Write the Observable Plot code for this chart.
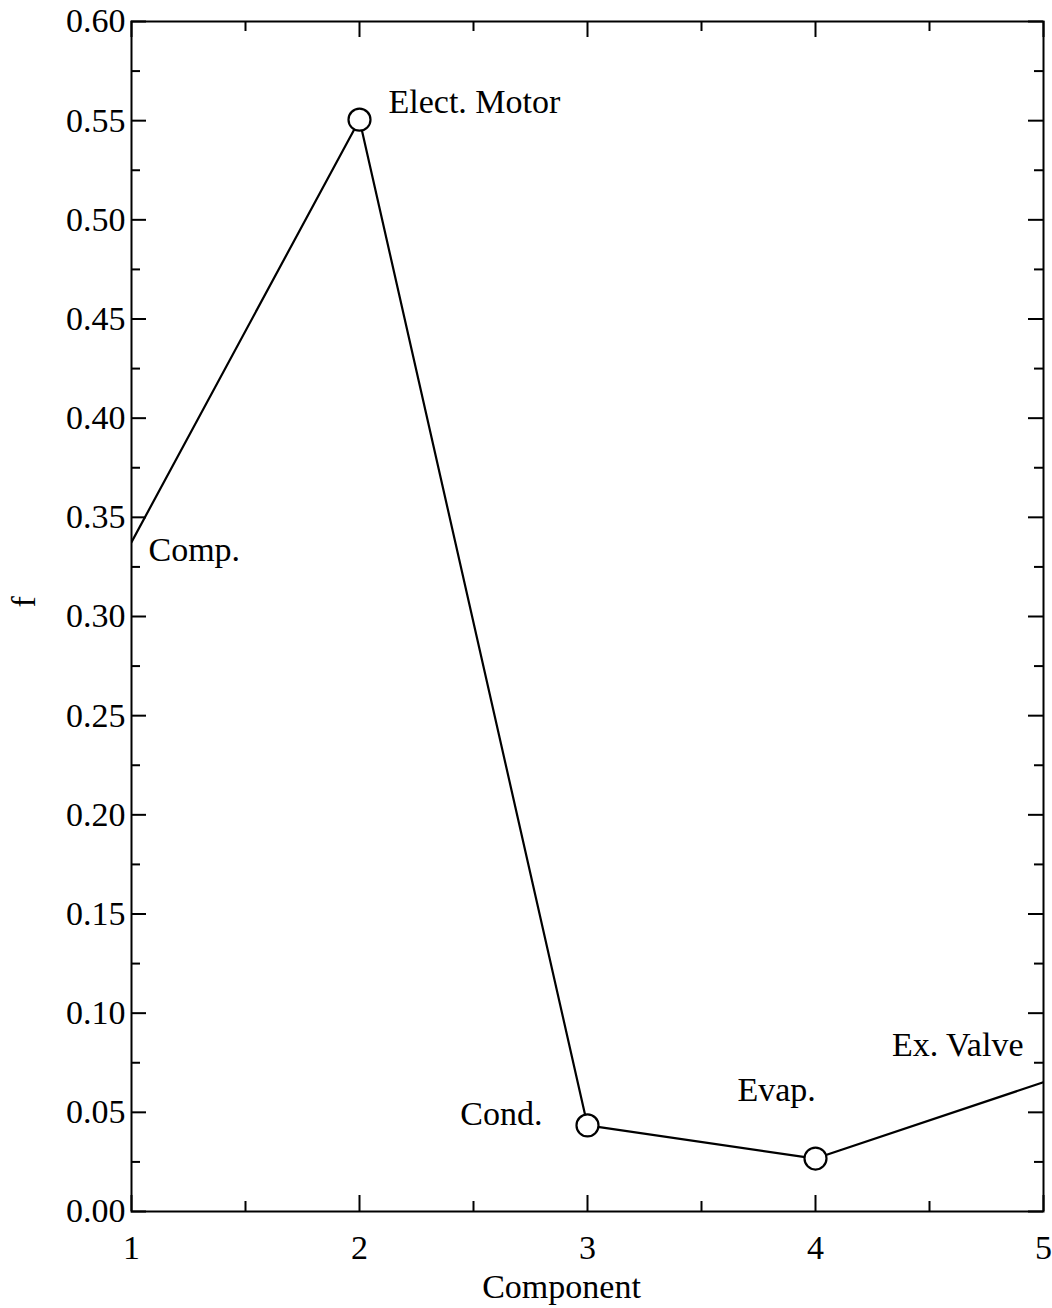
<!DOCTYPE html>
<html>
<head>
<meta charset="utf-8">
<script src="https://cdn.jsdelivr.net/npm/d3@7"></script>
<script src="https://cdn.jsdelivr.net/npm/@observablehq/plot@0.6"></script>
<style>
  html, body { margin: 0; padding: 0; background: #fff; }
  #chart svg { display: block; }
</style>
</head>
<body>
<div id="chart"></div>
<script>
// ---- data ----
const components = [1, 2, 3, 4, 5];
const fValues = [0.3375, 0.5505, 0.0434, 0.0267, 0.0652];
const componentNames = ["Comp.", "Elect. Motor", "Cond.", "Evap.", "Ex. Valve"];
const xTickLabels = [1, 2, 3, 4, 5];
const yTickLabels = [0, 0.05, 0.10, 0.15, 0.20, 0.25, 0.30, 0.35, 0.40, 0.45, 0.50, 0.55, 0.60];

const data = components.map((c, i) => ({x: c, f: fValues[i], name: componentNames[i]}));

// ---- layout (pixel offsets for labels) ----
const labelLayout = [
  {dx: 17, dy: 8, anchor: "start"},
  {dx: 29, dy: -18, anchor: "start"},
  {dx: -45, dy: -11, anchor: "end"},
  {dx: -78, dy: -68, anchor: "start"},
  {dx: -20, dy: -37, anchor: "end"}
];

const W = 1052, H = 1308;
const mL = 131, mR = 9, mT = 21, mB = 97;
const pw = W - mL - mR, ph = H - mT - mB;
const font = "'Liberation Serif', 'Times New Roman', serif";
const fs = 34;

const yMinor = d3.range(0.025, 0.6, 0.05);
const xMinor = [1.5, 2.5, 3.5, 4.5];
const yMajor = yTickLabels;
const xMajor = xTickLabels;

const labelMarks = data.map((d, i) => Plot.text([d], {
  x: "x", y: "f", text: "name",
  dx: labelLayout[i].dx, dy: labelLayout[i].dy,
  textAnchor: labelLayout[i].anchor,
  fontSize: fs, fill: "black"
}));

const plot = Plot.plot({
  width: W, height: H,
  marginLeft: mL, marginRight: mR, marginTop: mT, marginBottom: mB,
  style: {fontFamily: font, background: "white", color: "black"},
  x: {domain: [1, 5]},
  y: {domain: [0, 0.6]},
  marks: [
    // tick labels
    Plot.axisY({ticks: yTickLabels, tickSize: 0, tickPadding: 6, fontSize: fs, label: null, tickFormat: d3.format(".2f")}),
    Plot.axisX({ticks: xTickLabels, tickSize: 0, tickPadding: 23, fontSize: fs, label: null, tickFormat: d3.format("d")}),
    // inward ticks: left / right
    Plot.tickY(yMajor, {y: d => d, insetRight: pw - 15, strokeWidth: 2}),
    Plot.tickY(yMinor, {y: d => d, insetRight: pw - 9, strokeWidth: 2}),
    Plot.tickY(yMajor, {y: d => d, insetLeft: pw - 15, strokeWidth: 2}),
    Plot.tickY(yMinor, {y: d => d, insetLeft: pw - 9, strokeWidth: 2}),
    // inward ticks: bottom / top
    Plot.tickX(xMajor, {x: d => d, insetTop: ph - 16, strokeWidth: 2}),
    Plot.tickX(xMinor, {x: d => d, insetTop: ph - 10, strokeWidth: 2}),
    Plot.tickX(xMajor, {x: d => d, insetBottom: ph - 16, strokeWidth: 2}),
    Plot.tickX(xMinor, {x: d => d, insetBottom: ph - 10, strokeWidth: 2}),
    Plot.frame({stroke: "black", strokeWidth: 2}),
    // data
    Plot.line(data, {x: "x", y: "f", stroke: "black", strokeWidth: 2.2, clip: true}),
    Plot.dot(data.filter(d => d.x > 1 && d.x < 5), {x: "x", y: "f", r: 11, fill: "white", stroke: "black", strokeWidth: 2.2}),
    ...labelMarks,
    // axis titles
    Plot.text(["f"], {frameAnchor: "left", dx: -107, dy: -9, rotate: -90, fontSize: fs, fill: "black"}),
    Plot.text(["Component"], {frameAnchor: "bottom", dx: -26, dy: 86, fontSize: fs, fill: "black"})
  ]
});
document.getElementById("chart").appendChild(plot);
</script>
</body>
</html>
